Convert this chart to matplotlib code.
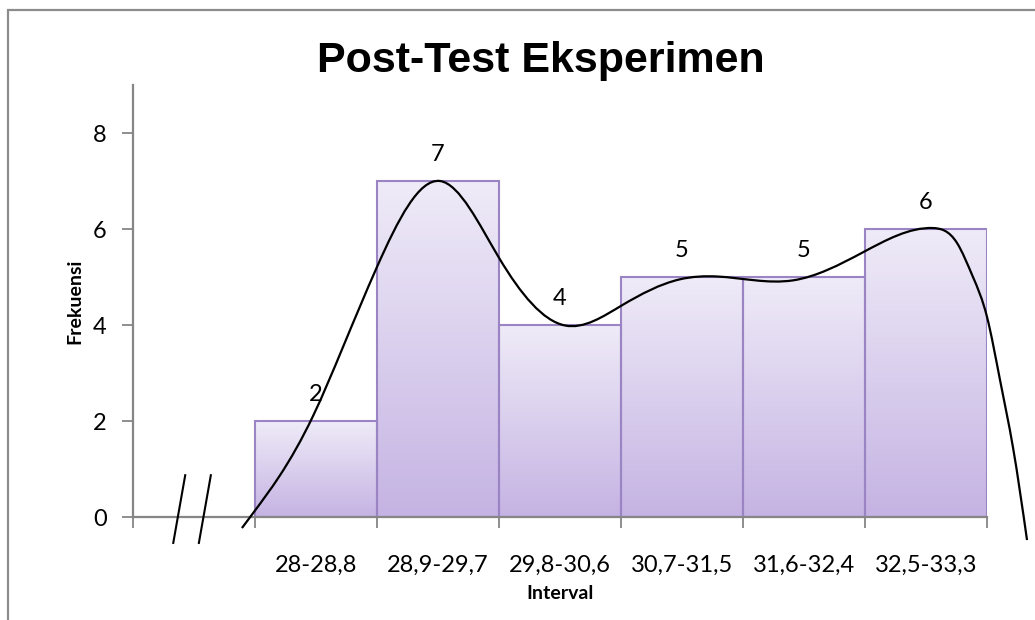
import matplotlib

matplotlib.use("Agg")
from matplotlib import pyplot as plt
from matplotlib.path import Path
from matplotlib.patches import PathPatch, Rectangle
from matplotlib.colors import LinearSegmentedColormap
import numpy as np

# first category is the empty slot behind the axis break
categories = ['', '28-28,8', '28,9-29,7', '29,8-30,6', '30,7-31,5', '31,6-32,4', '32,5-33,3']
frekuensi = [0, 2, 7, 4, 5, 5, 6]

# freehand curve drawn over the bars (x in category units, y in frequency)
curve_x = [0.893, 0.984, 1.2, 1.475, 1.721, 2.0, 2.516, 3.0, 3.541, 4.008, 4.48, 4.79,
           5.41, 5.98, 6.557, 6.754, 6.885, 7.0, 7.107, 7.213, 7.328]
curve_y = [-0.23, 0.08, 0.85, 2.1, 3.54, 5.21, 7.0, 5.4, 3.99, 4.41, 4.95, 5.01,
           4.93, 5.51, 6.02, 5.71, 5.0, 4.17, 2.85, 1.45, -0.48]

plt.rcParams['font.family'] = ['Lato', 'DejaVu Sans']

fig = plt.figure(figsize=(10.35, 6.2), dpi=100)
ax = fig.add_axes([133 / 1035, 1 - 517 / 620, (987 - 133) / 1035, 432 / 620])

# outer frame of the chart area
fig.patches.append(Rectangle((8 / 1035, -0.1), 1.2, 0.1 + 1 - 10 / 620,
                             transform=fig.transFigure, fill=False,
                             edgecolor='#8c8c8c', linewidth=1.6))

cmap = LinearSegmentedColormap.from_list('bar', ['#c5b3e3', '#efebf8'])
grad = np.linspace(0, 1, 256).reshape(-1, 1)
for i, h in enumerate(frekuensi):
    if i == 0:
        continue
    ax.imshow(grad, extent=(i, i + 1, 0, h), origin='lower', aspect='auto',
              cmap=cmap, zorder=1)
    ax.annotate(str(h), (i + 0.5, h), xytext=(0, 19), textcoords='offset points',
                ha='center', va='center', fontsize=17)
xs = np.arange(len(categories)) + 0.5
ax.bar(xs[1:], frekuensi[1:], width=1.0, fill=False, edgecolor='#9a84c4',
       linewidth=1.5, zorder=2)

# natural cubic spline through the traced points, drawn as Bezier segments
cx = np.array(curve_x)
cy = np.array(curve_y)
n = len(cx)
hs = np.diff(cx)
A = np.zeros((n, n))
r = np.zeros(n)
A[0, 0] = A[-1, -1] = 1
for i in range(1, n - 1):
    A[i, i - 1] = hs[i - 1]
    A[i, i] = 2 * (hs[i - 1] + hs[i])
    A[i, i + 1] = hs[i]
    r[i] = 6 * ((cy[i + 1] - cy[i]) / hs[i] - (cy[i] - cy[i - 1]) / hs[i - 1])
M = np.linalg.solve(A, r)
m = np.zeros(n)
m[:-1] = (cy[1:] - cy[:-1]) / hs - hs * (2 * M[:-1] + M[1:]) / 6
m[-1] = (cy[-1] - cy[-2]) / hs[-1] + hs[-1] * (M[-2] + 2 * M[-1]) / 6

verts = [(cx[0], cy[0])]
codes = [Path.MOVETO]
for i in range(n - 1):
    hseg = hs[i]
    verts += [(cx[i] + hseg / 3, cy[i] + m[i] * hseg / 3),
              (cx[i + 1] - hseg / 3, cy[i + 1] - m[i + 1] * hseg / 3),
              (cx[i + 1], cy[i + 1])]
    codes += [Path.CURVE4] * 3
ax.add_patch(PathPatch(Path(verts, codes), fill=False, edgecolor='black',
                       linewidth=1.6, zorder=3, clip_on=False))

# axis break marks
for bx in (0.33, 0.54):
    ax.plot([bx, bx + 0.098], [-0.54, 0.87], color='black', linewidth=1.5,
            clip_on=False, zorder=3)

ax.set_xlim(0, 7)
ax.set_ylim(0, 9)
ax.set_yticks([0, 2, 4, 6, 8])
ax.set_xticks(np.arange(8))
ax.set_xticklabels([])
ax.set_xticks(xs, minor=True)
ax.set_xticklabels(categories, minor=True, fontsize=17)
ax.tick_params(axis='x', which='major', length=8, width=1.3, color='#868686', direction='out')
ax.tick_params(axis='x', which='minor', length=0, pad=27)
ax.tick_params(axis='y', length=8, width=1.3, color='#868686', pad=11, labelsize=17)
for s in ('top', 'right'):
    ax.spines[s].set_visible(False)
for s in ('left', 'bottom'):
    ax.spines[s].set_color('#868686')
    ax.spines[s].set_linewidth(1.6)

ax.set_ylabel('Frekuensi', fontsize=14, fontweight='bold', labelpad=7)
ax.set_xlabel('Interval', fontsize=14, fontweight='bold', labelpad=7)
fig.text(541 / 1035, 1 - 61 / 620, 'Post-Test Eksperimen', ha='center', va='center',
         fontsize=31, fontweight='bold', family='Liberation Sans')

fig.savefig('out.png', dpi=100)
